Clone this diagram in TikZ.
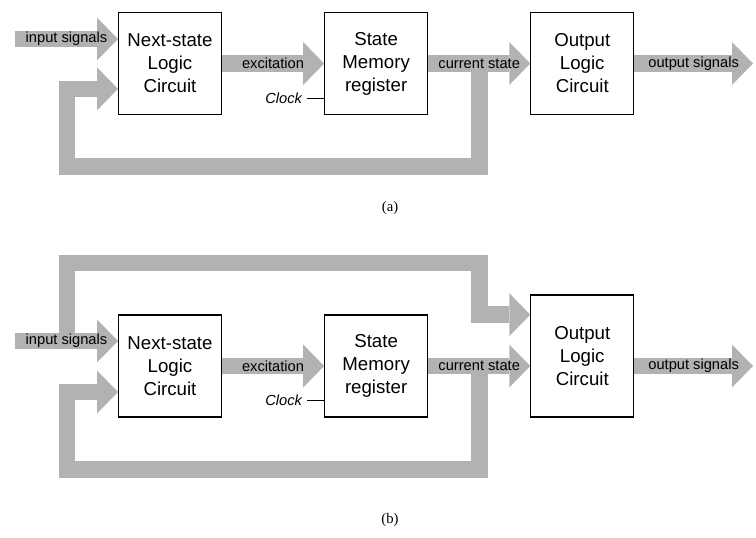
\documentclass[tikz,border=0pt]{standalone}
\usepackage{fontspec}
\setmainfont{Liberation Serif}
\setsansfont{Liberation Sans}
\usetikzlibrary{arrows.meta,positioning,calc}

\tikzset{
  blk/.style={draw, line width=0.8pt, minimum width=77.2pt, minimum height=76.5pt,
    inner sep=0pt, align=center, font=\sffamily\fontsize{14}{17.25}\selectfont},
  bus/.style={draw=gray!60, line width=12.5pt, line join=miter,
    -{Triangle[width=32.25pt,length=15.75pt,line width=0pt]}},
  lbl/.style={font=\sffamily\fontsize{11}{13}\selectfont},
}

\begin{document}
\begin{tikzpicture}[x=0.75pt,y=-0.75pt]
		\useasboundingbox (0,0) rectangle (756,537);
		% (a)
		\node[blk] (nsl) at (170,63.5) {Next-state\\Logic\\Circuit};
		\node[blk,right=76.6pt of nsl] (smr) {State\\Memory\\register};
		\node[blk,right=76.6pt of smr] (ol) {Output\\Logic\\Circuit};
		\coordinate (ina) at (15,39);
		\coordinate (outa) at (753,63.5);
		\coordinate (fba) at ($(smr.east)!.5!(ol.west)$);
		\coordinate (cnra) at (67,166.5);
		\coordinate (clka) at (307,98);
		\draw[bus] (fba) |- (cnra) |- ([yshift=-19pt]nsl.west);
		\draw[bus] (ina) -- (ina -| nsl.west) node[lbl,midway] {input signals};
		\draw[bus] (nsl) -- (smr) node[lbl,midway] {excitation};
		\draw[bus] (smr) -- (ol) node[lbl,midway] {current state};
		\draw[bus] (ol) -- (outa) node[lbl,midway] {output signals};
		\draw[line width=0.75pt] (clka) node[lbl,left] {\itshape Clock} -- (clka -| smr.west);
		\node[font=\fontsize{11}{13}\selectfont] (capa) at (390,208) {(a)};
		% (b)
		\node[blk] (nslb) at (170,366) {Next-state\\Logic\\Circuit};
		\node[blk,right=76.6pt of nslb] (smrb) {State\\Memory\\register};
		\node[blk,minimum height=91.5pt,anchor=south west] (olb)
			at ([xshift=76.6pt]smrb.south east) {Output\\Logic\\Circuit};
		\coordinate (inb) at (15,341);
		\coordinate (outb) at (753,366);
		\coordinate (fbb) at ($(smrb.east)!.5!(smrb.east -| olb.west)$);
		\coordinate (tlb) at (67,263);
		\coordinate (cnrb) at (67,469.5);
		\coordinate (clkb) at (307,400);
		\draw[bus] (inb -| tlb) -- (tlb) -- (fbb |- tlb) |- ([yshift=31pt]olb.west);
		\draw[bus] (fbb) |- (cnrb) |- ([yshift=-19.5pt]nslb.west);
		\draw[bus] (inb) -- (inb -| nslb.west) node[lbl,midway] {input signals};
		\draw[bus] (nslb) -- (smrb) node[lbl,midway] {excitation};
		\draw[bus] (smrb) -- (smrb -| olb.west) node[lbl,midway] {current state};
		\draw[bus] (outb -| olb.east) -- (outb) node[lbl,midway] {output signals};
		\draw[line width=0.75pt] (clkb) node[lbl,left] {\itshape Clock} -- (clkb -| smrb.west);
		\node[font=\fontsize{11}{13}\selectfont] (capb) at (390,520) {(b)};
	\end{tikzpicture}
\end{document}
